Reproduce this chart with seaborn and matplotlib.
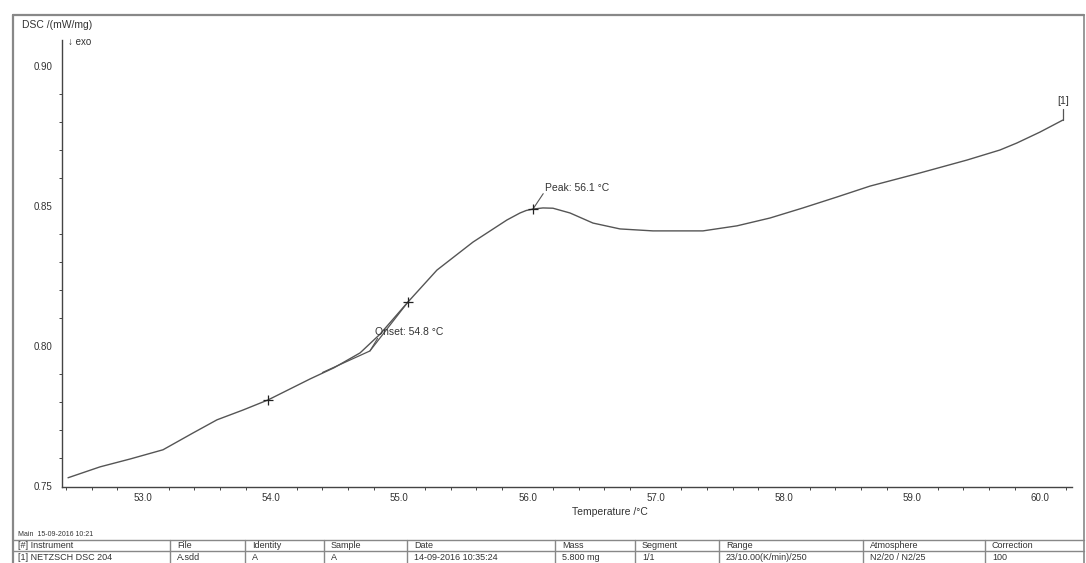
import numpy as np
import pandas as pd
import seaborn as sns
import matplotlib.pyplot as plt
from matplotlib.ticker import MultipleLocator, FormatStrFormatter

# DSC curve
temperature = [52.415, 52.665, 52.899, 53.156, 53.390, 53.577, 53.780, 53.975,
               54.303, 54.490, 54.693, 54.786, 54.849, 55.067, 55.293, 55.574,
               55.839, 55.941, 55.990, 56.042, 56.120, 56.198, 56.331, 56.510,
               56.721, 56.978, 57.368, 57.633, 57.891, 58.148, 58.413, 58.671,
               59.061, 59.427, 59.685, 59.817, 59.997, 60.176]
dsc = [0.7529, 0.7568, 0.7596, 0.7629, 0.7689, 0.7736, 0.7771, 0.7807,
       0.7882, 0.7922, 0.7975, 0.8015, 0.8042, 0.8157, 0.8271, 0.8371,
       0.8450, 0.8475, 0.8484, 0.8489, 0.8493, 0.8492, 0.8475, 0.8439,
       0.8418, 0.8411, 0.8411, 0.8429, 0.8457, 0.8493, 0.8532, 0.8571,
       0.8618, 0.8664, 0.8700, 0.8725, 0.8764, 0.8807]

# evaluation marks (+) and onset tangents
mark_temp = [53.975, 55.067, 56.042]
mark_dsc = [0.7807, 0.8157, 0.8489]
tangent_temp = [54.40, 54.77, 55.067]
tangent_dsc = [0.7905, 0.7982, 0.8157]
onset_temp, onset_dsc = 54.77, 0.7982

x_ticks = [53.0, 54.0, 55.0, 56.0, 57.0, 58.0, 59.0, 60.0]
y_ticks = [0.75, 0.80, 0.85, 0.90]

table_header = ["[#] Instrument", "File", "Identity", "Sample", "Date",
                "Mass", "Segment", "Range", "Atmosphere", "Correction"]
table_row = ["[1] NETZSCH DSC 204", "A.sdd", "A", "A", "14-09-2016 10:35:24",
             "5.800 mg", "1/1", "23/10.00(K/min)/250", "N2/20 / N2/25", "100"]
col_x = [14, 173, 248, 327, 410, 558, 638, 722, 866, 988]

sns.set_style("white")
plt.rcParams['font.family'] = ['Liberation Sans', 'DejaVu Sans']
ink = "#444444"
txt = "#333333"

W, H = 1086, 563
fig = plt.figure(figsize=(W / 100, H / 100), dpi=100)
ax = fig.add_axes([62 / W, 1 - 487 / H, (1072 - 62) / W, (487 - 40) / H])

df = pd.DataFrame({"T": temperature, "DSC": dsc})
sns.lineplot(data=df, x="T", y="DSC", ax=ax, color="#555555", linewidth=1.0)
ax.plot(tangent_temp, tangent_dsc, color="#555555", linewidth=0.9)
ax.scatter(mark_temp, mark_dsc, marker="+", s=45, color="#222222", linewidths=0.9, zorder=5)

# annotations: leader lines and labels
ax.plot([mark_temp[2], mark_temp[2] + 0.08], [mark_dsc[2], mark_dsc[2] + 0.0055],
        color="#555555", linewidth=0.8)
ax.text(mark_temp[2] + 0.09, mark_dsc[2] + 0.0077, "Peak: 56.1 °C",
        fontsize=7.5, color=txt, va="center", ha="left")
ax.plot([onset_temp, onset_temp + 0.06], [onset_dsc, onset_dsc + 0.0045],
        color="#555555", linewidth=0.8)
ax.text(onset_temp + 0.04, onset_dsc + 0.0068, "Onset: 54.8 °C",
        fontsize=7.5, color=txt, va="center", ha="left")
ax.plot([temperature[-1], temperature[-1]], [dsc[-1], dsc[-1] + 0.004],
        color="#555555", linewidth=0.9)
ax.text(temperature[-1], dsc[-1] + 0.0068, "[1]", fontsize=7.5, color=txt,
        ha="center", va="center")

ax.set_xlim(52.368, 60.247)
ax.set_ylim(0.7496, 0.9093)
ax.set_xticks(x_ticks)
ax.set_yticks(y_ticks)
ax.xaxis.set_major_formatter(FormatStrFormatter("%.1f"))
ax.yaxis.set_major_formatter(FormatStrFormatter("%.2f"))
ax.xaxis.set_minor_locator(MultipleLocator(0.2))
ax.yaxis.set_minor_locator(MultipleLocator(0.01))
ax.tick_params(axis="both", which="major", labelsize=7, colors=ink, length=4,
               width=0.8, labelcolor=txt)
ax.tick_params(axis="x", which="major", direction="inout", length=5, pad=2)
ax.tick_params(axis="y", which="major", direction="out", length=4, pad=3)
ax.tick_params(axis="both", which="minor", direction="out", length=2.5, width=0.7,
               colors=ink, bottom=True, left=True)
ax.set_xlabel("")
ax.set_ylabel("")
for side in ["top", "right"]:
    ax.spines[side].set_visible(False)
for side in ["left", "bottom"]:
    ax.spines[side].set_color(ink)
    ax.spines[side].set_linewidth(1.0)

# figure-level texts
def fx(px):
    return px / W

def fy(py):
    return 1 - py / H

fig.text(fx(22), fy(25), "DSC /(mW/mg)", fontsize=7.5, color=txt, va="center")
fig.text(fx(68), fy(42), "↓ exo", fontsize=7, color=txt, va="center")
fig.text(fx(610), fy(512), "Temperature /°C", fontsize=7.5, color=txt,
         ha="center", va="center")
fig.text(fx(18), fy(534), "Main  15-09-2016 10:21", fontsize=5, color=txt,
         va="center")

# outer frame and info table
frame_color = "#888888"
fig.add_artist(plt.Line2D([fx(13), fx(13)], [fy(15), 0], color=frame_color, lw=1.6))
fig.add_artist(plt.Line2D([fx(13), fx(1084)], [fy(15), fy(15)], color=frame_color, lw=1.6))
fig.add_artist(plt.Line2D([fx(1084), fx(1084)], [fy(15), 0], color=frame_color, lw=1.2))
for py in [540, 551]:
    fig.add_artist(plt.Line2D([fx(13), fx(1084)], [fy(py), fy(py)], color=frame_color, lw=1.0))
for cx in col_x[1:]:
    fig.add_artist(plt.Line2D([fx(cx - 3), fx(cx - 3)], [fy(540), 0], color=frame_color, lw=1.0))
for cx, head, val in zip(col_x, table_header, table_row):
    fig.text(fx(cx + 4), fy(546), head, fontsize=6.5, color=txt, va="center")
    fig.text(fx(cx + 4), fy(558), val, fontsize=6.5, color=txt, va="center")

fig.savefig("out.png", dpi=100, facecolor="white")
